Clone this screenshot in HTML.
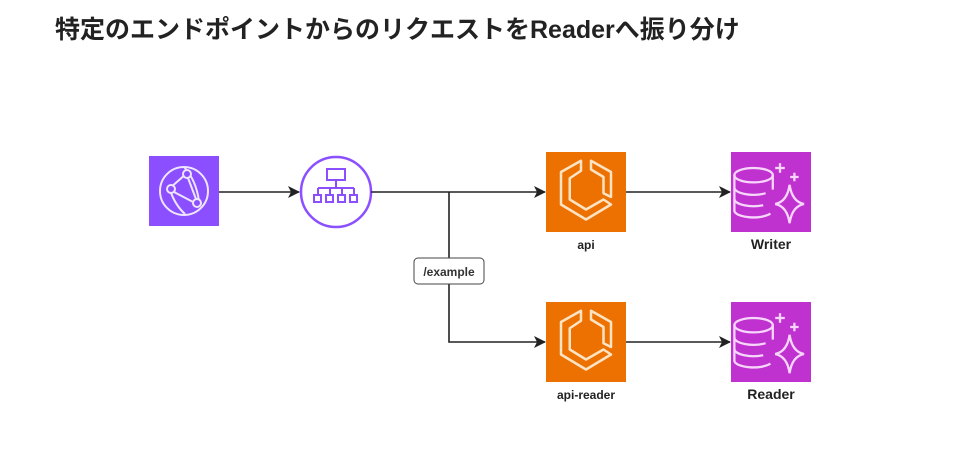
<!DOCTYPE html>
<html><head><meta charset="utf-8"><style>
html,body{margin:0;padding:0;background:#fff;width:960px;height:470px;overflow:hidden}
.t{position:absolute;left:55px;top:15px;font:bold 25px "Liberation Sans","Noto Sans CJK JP",sans-serif;color:#222;white-space:nowrap;line-height:30px}
</style></head><body>
<div class="t">特定のエンドポイントからのリクエストをReaderへ振り分け</div>
<svg width="960" height="470" style="position:absolute;left:0;top:0">
<defs>
<marker id="a" markerWidth="12" markerHeight="12" refX="11" refY="6" orient="auto" markerUnits="userSpaceOnUse"><path d="M0,0 L12,6 L0,12 L3,6z" fill="#222"/></marker>
<g id="ecs" fill="none" stroke="#fbe3c4" stroke-width="2" stroke-linejoin="round" transform="scale(1.25)">
<path d="M-4,-25 L-20,-16 L-20,10 L0,22 L20,10 L14,6 L0,14 L-13,6 L-13,-11 L-4,-17 Z"/>
<path d="M4,-25 L20,-16 L20,4 L14,1 L14,-12 L4,-18 Z"/>
</g>
<g id="db" fill="none" stroke="#f7d6fb" stroke-width="1.9" transform="scale(1.2)">
<ellipse cx="-12" cy="-14" rx="16" ry="6"/>
<path d="M-28,-14 V16 A16,6 0 0 0 2,18 M4,-14 V-2 M-28,-4 A16,6 0 0 0 -2,1 M-28,6 A16,6 0 0 0 -4,11"/>
<path d="M18,-6 Q20,8 30,10 Q20,12 18,26 Q16,12 6,10 Q16,8 18,-6Z"/>
<path d="M10,-24 v8 M6,-20 h8 M22,-16 v7 M18.5,-12.5 h7"/>
</g>
</defs>
<rect x="149" y="156" width="70" height="70" fill="#8c4fff"/>
<g fill="none" stroke="#eee5ff" stroke-width="2">
<circle cx="184" cy="191" r="24"/>
<path d="M170,188 L186,174 M174,192 L195,203 M188,178 L196,199 M170,190 Q175,205 185,214 M184,167 Q196,180 199,201"/>
<circle cx="171" cy="189" r="4" fill="#8c4fff"/><circle cx="187" cy="174" r="4" fill="#8c4fff"/><circle cx="197" cy="203" r="4" fill="#8c4fff"/>
</g>
<circle cx="336" cy="192" r="35" fill="#fff" stroke="#8c4fff" stroke-width="2.5"/>
<g fill="none" stroke="#8c4fff" stroke-width="2">
<rect x="327" y="169" width="18" height="11"/>
<path d="M336,180 V188 M318,188 H354 M318,188 V195 M330,188 V195 M342,188 V195 M354,188 V195"/>
<rect x="314" y="195" width="7" height="7"/><rect x="326" y="195" width="7" height="7"/><rect x="338" y="195" width="7" height="7"/><rect x="350" y="195" width="7" height="7"/>
</g>
<g stroke="#222" stroke-width="1.6" fill="none">
<path d="M219,192 H299" marker-end="url(#a)"/>
<path d="M371,192 H545" marker-end="url(#a)"/>
<path d="M449,192 V342 H545" marker-end="url(#a)"/>
<path d="M626,192 H730" marker-end="url(#a)"/>
<path d="M626,342 H730" marker-end="url(#a)"/>
</g>
<rect x="414" y="258" width="70" height="26" rx="4" fill="#fff" stroke="#444" stroke-width="1"/>
<text x="449" y="276" text-anchor="middle" font-family="Liberation Sans,sans-serif" font-weight="bold" font-size="12" fill="#333">/example</text>
<rect x="546" y="152" width="80" height="80" fill="#ed7100"/>
<use href="#ecs" x="586" y="192"/>
<rect x="546" y="302" width="80" height="80" fill="#ed7100"/>
<use href="#ecs" x="586" y="342"/>
<rect x="731" y="152" width="80" height="80" fill="#c032d0"/>
<use href="#db" x="768" y="192"/>
<rect x="731" y="302" width="80" height="80" fill="#c032d0"/>
<use href="#db" x="768" y="342"/>
<g font-family="Liberation Sans,sans-serif" font-weight="bold" fill="#222" text-anchor="middle">
<text x="586" y="249" font-size="12">api</text>
<text x="586" y="399" font-size="12">api-reader</text>
<text x="771" y="249" font-size="14">Writer</text>
<text x="771" y="399" font-size="14">Reader</text>
</g>
</svg>
</body></html>
